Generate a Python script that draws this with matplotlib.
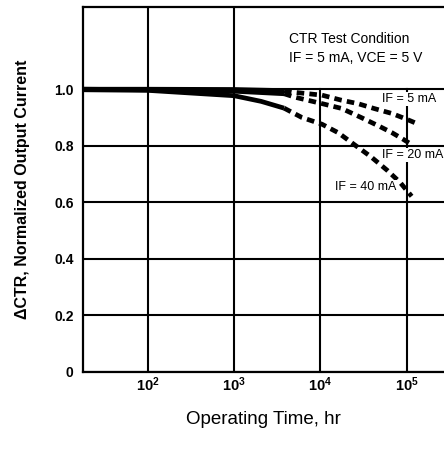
import numpy as np
import matplotlib
matplotlib.use("Agg")
import matplotlib.pyplot as plt

plt.rcParams['font.family'] = ['Liberation Sans', 'DejaVu Sans']
plt.rcParams['mathtext.default'] = 'regular'

# operating time (hr) and normalized CTR
hours_5ma = [18, 100, 1000, 3800, 4640, 10450, 17600, 27200, 41600, 67600, 95700, 130000]
ctr_5ma = [1.0, 1.0, 0.999, 0.995, 0.990, 0.979, 0.961, 0.949, 0.932, 0.914, 0.896, 0.879]

hours_20ma = [18, 100, 1000, 3800, 5040, 10450, 17600, 29600, 47300, 67600, 90800, 114000]
ctr_20ma = [1.0, 0.998, 0.993, 0.984, 0.972, 0.949, 0.932, 0.900, 0.870, 0.846, 0.823, 0.804]

hours_40ma = [18, 100, 1000, 2060, 3800, 6100, 10450, 16100, 24700, 38500, 59400, 83900, 114000]
ctr_40ma = [0.998, 0.996, 0.977, 0.957, 0.933, 0.900, 0.876, 0.846, 0.804, 0.761, 0.713, 0.670, 0.621]

# measured data ends here, extrapolation (dashed) after
solid_until = 3800

x_ticks = [1e2, 1e3, 1e4, 1e5]
x_ticklabels = ['$10^{2}$', '$10^{3}$', '$10^{4}$', '$10^{5}$']
y_ticks = [0, 0.2, 0.4, 0.6, 0.8, 1.0]
y_ticklabels = ['0', '0.2', '0.4', '0.6', '0.8', '1.0']


def draw_curve(ax, hours, ctr):
    h = np.array(hours, dtype=float)
    c = np.array(ctr)
    solid = h <= solid_until
    dashed = h >= solid_until
    ax.plot(h[solid], c[solid], color='black', lw=3.4,
            solid_capstyle='butt', zorder=3)
    ax.plot(h[dashed], c[dashed], color='black', lw=3.4,
            linestyle=(0, (1.6, 1.1)), zorder=3)


fig = plt.figure(figsize=(4.44, 4.5), dpi=100)
ax = fig.add_axes([83.3 / 444, 1 - 371.7 / 450, (444 - 83.3) / 444, (371.7 - 7.3) / 450])

ax.set_xscale('log')
ax.set_xlim(10 ** 1.254, 10 ** 5.432)
ax.set_ylim(0, 1.29)

# grid: the two right decade lines stop at 1.0 to leave room for the test condition note
for y in y_ticks:
    ax.axhline(y, color='black', lw=1.5, zorder=1)
for x in x_ticks:
    top = 1.0 / 1.29 if x > 1e3 else 1.0
    ax.axvline(x, ymin=0, ymax=top, color='black', lw=1.5, zorder=1)

draw_curve(ax, hours_5ma, ctr_5ma)
draw_curve(ax, hours_20ma, ctr_20ma)
draw_curve(ax, hours_40ma, ctr_40ma)

ax.set_xticks(x_ticks)
ax.set_xticklabels(x_ticklabels, fontsize=10.5, fontweight='bold')
ax.xaxis.set_minor_locator(matplotlib.ticker.NullLocator())
ax.set_yticks(y_ticks)
ax.set_yticklabels(y_ticklabels, fontsize=10, fontweight='bold')
ax.tick_params(length=0)
ax.tick_params(axis='y', pad=7)
ax.tick_params(axis='x', pad=3)

for side in ['left', 'bottom', 'top']:
    ax.spines[side].set_linewidth(1.6)
ax.spines['right'].set_visible(False)

ax.set_xlabel('Operating Time, hr', fontsize=13.5, labelpad=12)
ax.set_ylabel('ΔCTR, Normalized Output Current', fontsize=11.5,
              fontweight='bold', labelpad=17)

ax.text(0.570, 0.913, 'CTR Test Condition', transform=ax.transAxes,
        fontsize=10, va='center', ha='left')
ax.text(0.570, 0.861, 'IF = 5 mA, VCE = 5 V', transform=ax.transAxes,
        fontsize=10, va='center', ha='left')

box = dict(facecolor='white', edgecolor='none', pad=0.5)
ax.text(0.828, 0.748, 'IF = 5 mA', transform=ax.transAxes, fontsize=9,
        va='center', ha='left', bbox=box, zorder=4)
ax.text(0.828, 0.595, 'IF = 20 mA', transform=ax.transAxes, fontsize=9,
        va='center', ha='left', bbox=box, zorder=4)
ax.text(0.698, 0.507, 'IF = 40 mA', transform=ax.transAxes, fontsize=9,
        va='center', ha='left', bbox=box, zorder=4)

fig.savefig('out.png', dpi=100)
